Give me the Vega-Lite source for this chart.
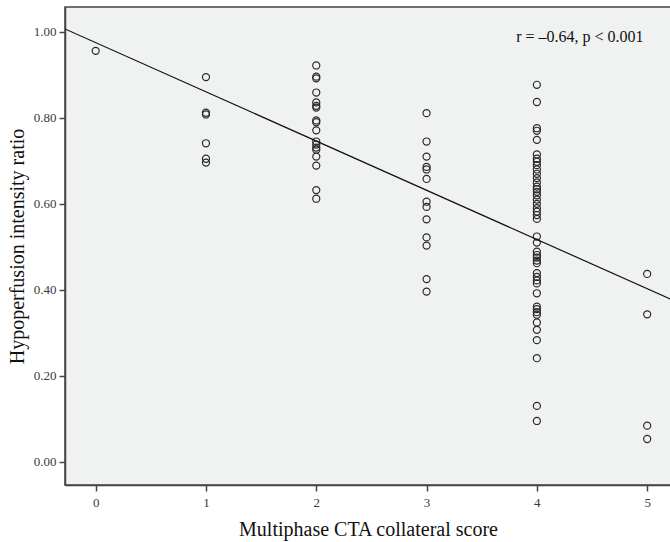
{
  "$schema": "https://vega.github.io/schema/vega-lite/v6.json",
  "autosize": "none",
  "padding": {"left": 65, "top": 7, "right": 0, "bottom": 57},
  "width": 606,
  "height": 478,
  "background": "white",
  "config": {
    "view": {"fill": "#f0f1f1", "stroke": "#444444", "strokeWidth": 1.5},
    "font": "Liberation Serif",
    "axis": {
      "labelFont": "Liberation Serif",
      "titleFont": "Liberation Serif",
      "labelFontSize": 13,
      "labelColor": "#3a3a3a",
      "titleFontSize": 20,
      "titleFontWeight": "normal",
      "titleColor": "#111111",
      "domainColor": "#444444",
      "domainWidth": 1.5,
      "tickColor": "#444444",
      "tickWidth": 1.5,
      "tickSize": 6,
      "grid": false
    }
  },
  "datasets": {
    "points": [
      {"score": 0, "ratio": 0.956},
      {"score": 1, "ratio": 0.895},
      {"score": 1, "ratio": 0.812},
      {"score": 1, "ratio": 0.808},
      {"score": 1, "ratio": 0.741},
      {"score": 1, "ratio": 0.705},
      {"score": 1, "ratio": 0.696},
      {"score": 2, "ratio": 0.922},
      {"score": 2, "ratio": 0.896},
      {"score": 2, "ratio": 0.892},
      {"score": 2, "ratio": 0.859},
      {"score": 2, "ratio": 0.836},
      {"score": 2, "ratio": 0.828},
      {"score": 2, "ratio": 0.824},
      {"score": 2, "ratio": 0.794},
      {"score": 2, "ratio": 0.790},
      {"score": 2, "ratio": 0.771},
      {"score": 2, "ratio": 0.745},
      {"score": 2, "ratio": 0.738},
      {"score": 2, "ratio": 0.731},
      {"score": 2, "ratio": 0.726},
      {"score": 2, "ratio": 0.710},
      {"score": 2, "ratio": 0.689},
      {"score": 2, "ratio": 0.632},
      {"score": 2, "ratio": 0.612},
      {"score": 3, "ratio": 0.811},
      {"score": 3, "ratio": 0.745},
      {"score": 3, "ratio": 0.710},
      {"score": 3, "ratio": 0.686},
      {"score": 3, "ratio": 0.680},
      {"score": 3, "ratio": 0.658},
      {"score": 3, "ratio": 0.605},
      {"score": 3, "ratio": 0.593},
      {"score": 3, "ratio": 0.564},
      {"score": 3, "ratio": 0.522},
      {"score": 3, "ratio": 0.503},
      {"score": 3, "ratio": 0.425},
      {"score": 3, "ratio": 0.396},
      {"score": 4, "ratio": 0.877},
      {"score": 4, "ratio": 0.837},
      {"score": 4, "ratio": 0.776},
      {"score": 4, "ratio": 0.770},
      {"score": 4, "ratio": 0.749},
      {"score": 4, "ratio": 0.715},
      {"score": 4, "ratio": 0.705},
      {"score": 4, "ratio": 0.698},
      {"score": 4, "ratio": 0.690},
      {"score": 4, "ratio": 0.680},
      {"score": 4, "ratio": 0.670},
      {"score": 4, "ratio": 0.660},
      {"score": 4, "ratio": 0.650},
      {"score": 4, "ratio": 0.640},
      {"score": 4, "ratio": 0.634},
      {"score": 4, "ratio": 0.628},
      {"score": 4, "ratio": 0.620},
      {"score": 4, "ratio": 0.610},
      {"score": 4, "ratio": 0.600},
      {"score": 4, "ratio": 0.590},
      {"score": 4, "ratio": 0.582},
      {"score": 4, "ratio": 0.574},
      {"score": 4, "ratio": 0.565},
      {"score": 4, "ratio": 0.524},
      {"score": 4, "ratio": 0.510},
      {"score": 4, "ratio": 0.489},
      {"score": 4, "ratio": 0.481},
      {"score": 4, "ratio": 0.475},
      {"score": 4, "ratio": 0.468},
      {"score": 4, "ratio": 0.462},
      {"score": 4, "ratio": 0.439},
      {"score": 4, "ratio": 0.430},
      {"score": 4, "ratio": 0.422},
      {"score": 4, "ratio": 0.415},
      {"score": 4, "ratio": 0.392},
      {"score": 4, "ratio": 0.361},
      {"score": 4, "ratio": 0.355},
      {"score": 4, "ratio": 0.348},
      {"score": 4, "ratio": 0.342},
      {"score": 4, "ratio": 0.324},
      {"score": 4, "ratio": 0.307},
      {"score": 4, "ratio": 0.283},
      {"score": 4, "ratio": 0.241},
      {"score": 4, "ratio": 0.130},
      {"score": 4, "ratio": 0.095},
      {"score": 5, "ratio": 0.437},
      {"score": 5, "ratio": 0.343},
      {"score": 5, "ratio": 0.084},
      {"score": 5, "ratio": 0.053}
    ],
    "fit": [
      {"score": -0.278, "ratio": 1.007},
      {"score": 5.216, "ratio": 0.378}
    ],
    "note": [
      {"score": 4.39, "ratio": 0.989, "label": "r = –0.64, p < 0.001"}
    ]
  },
  "layer": [
    {
      "data": {"name": "points"},
      "mark": {"type": "point", "shape": "circle", "filled": false, "stroke": "#2a2a2a", "strokeWidth": 1.2, "size": 50, "opacity": 1},
      "encoding": {
        "x": {
          "field": "score", "type": "quantitative",
          "scale": {"domain": [-0.278, 5.216], "nice": false, "zero": false},
          "axis": {"values": [0, 1, 2, 3, 4, 5], "format": "d", "title": "Multiphase CTA collateral score", "titlePadding": 10, "labelPadding": 5}
        },
        "y": {
          "field": "ratio", "type": "quantitative",
          "scale": {"domain": [-0.054, 1.058], "nice": false, "zero": false},
          "axis": {"values": [0, 0.2, 0.4, 0.6, 0.8, 1.0], "format": ".2f", "title": "Hypoperfusion intensity ratio", "titlePadding": 6, "labelPadding": 3}
        }
      }
    },
    {
      "data": {"name": "fit"},
      "mark": {"type": "line", "color": "#111111", "strokeWidth": 1.2, "clip": true},
      "encoding": {
        "x": {"field": "score", "type": "quantitative"},
        "y": {"field": "ratio", "type": "quantitative"}
      }
    },
    {
      "data": {"name": "note"},
      "mark": {"type": "text", "font": "Liberation Serif", "fontSize": 16, "color": "#111111", "align": "center", "baseline": "middle"},
      "encoding": {
        "x": {"field": "score", "type": "quantitative"},
        "y": {"field": "ratio", "type": "quantitative"},
        "text": {"field": "label"}
      }
    }
  ]
}
